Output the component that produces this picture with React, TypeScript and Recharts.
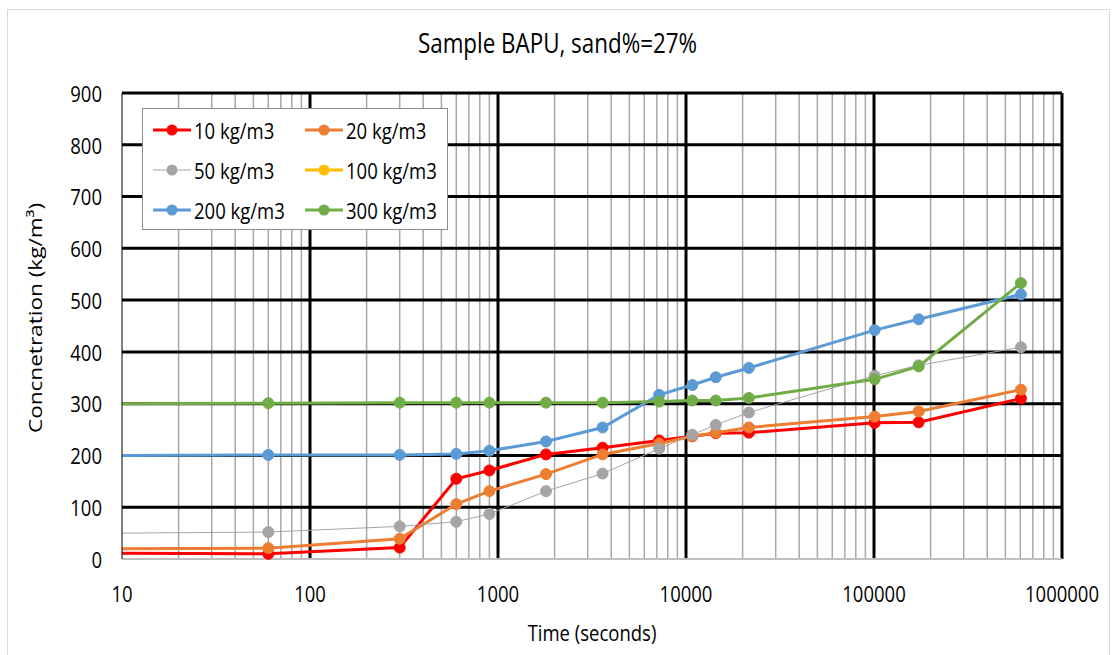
import React from "react";
import { LineChart, Line, XAxis, YAxis, ReferenceLine, Label } from "recharts";

const times = [10, 60, 300, 600, 900, 1800, 3600, 7200, 10800, 14400, 21600, 100800, 172800, 604800];
const c10 = [11, 10, 22, 155, 171, 202, 215, 229, 237, 243, 244, 263, 264, 310];
const c20 = [20, 21, 39, 106, 131, 164, 202, 223, 237, 244, 254, 275, 285, 327];
const c50 = [50, 52, 63, 72, 87, 131, 165, 213, 240, 259, 283, 354, 374, 409];
const c200 = [200, 201, 201, 203, 209, 227, 254, 317, 336, 351, 369, 442, 463, 511];
const c300 = [300, 301, 302, 302, 302, 302, 302, 304, 306, 306, 311, 347, 372, 533];

const xTicks = [10, 100, 1000, 10000, 100000, 1000000];
const yTicks = [0, 100, 200, 300, 400, 500, 600, 700, 800, 900];
const majorX = [100, 1000, 10000, 100000, 1000000];
const majorY = [100, 200, 300, 400, 500, 600, 700, 800, 900];
const minorX = [20, 30, 40, 50, 60, 70, 80, 90, 200, 300, 400, 500, 600, 700, 800, 900, 2000, 3000, 4000, 5000, 6000, 7000, 8000, 9000, 20000, 30000, 40000, 50000, 60000, 70000, 80000, 90000, 200000, 300000, 400000, 500000, 600000, 700000, 800000, 900000];

const series = [
  { key: "c10", name: "10 kg/m3", color: "#FF0000", width: 3 },
  { key: "c20", name: "20 kg/m3", color: "#ED7D31", width: 3 },
  { key: "c50", name: "50 kg/m3", color: "#A5A5A5", width: 1 },
  { key: "c100", name: "100 kg/m3", color: "#FFC000", width: 3 },
  { key: "c200", name: "200 kg/m3", color: "#5B9BD5", width: 3 },
  { key: "c300", name: "300 kg/m3", color: "#70AD47", width: 3 },
];

const data = times.map((t, i) => ({ t, c10: c10[i], c20: c20[i], c50: c50[i], c200: c200[i], c300: c300[i] }));

const FONT = "'Open Sans', sans-serif";
const SY = 1.22;
const FS = 18.5;

const makeDot = (color: string) => (props: any) => {
  const { cx, cy, index } = props;
  if (index === 0 || cx == null || cy == null) return <g key={`d${index}`} />;
  return <circle key={`d${index}`} cx={cx} cy={cy} r={5.5} fill={color} stroke={color} strokeWidth={1} />;
};

const XTick = (props: any) => {
  const { x, y, payload } = props;
  return (
    <g transform={`translate(${x},${y}) scale(1,${SY})`}>
      <text x={0} y={0} textAnchor="middle" dominantBaseline="central" fill="#000" fontSize={FS} fontFamily={FONT}>
        {payload.value}
      </text>
    </g>
  );
};

const YTick = (props: any) => {
  const { x, y, payload } = props;
  return (
    <g transform={`translate(${x},${y}) scale(1,${SY})`}>
      <text x={0} y={0} textAnchor="end" dominantBaseline="central" fill="#000" fontSize={FS} fontFamily={FONT}>
        {payload.value}
      </text>
    </g>
  );
};

const LegendBox = () => (
  <div style={{ position: "absolute", left: 142, top: 108, width: 306, height: 122, background: "#fff", border: "1px solid #8c8c8c", boxSizing: "border-box", fontFamily: FONT }}>
    {series.map((s, i) => {
      const col = i % 2;
      const row = Math.floor(i / 2);
      const left = col === 0 ? 10 : 162;
      const top = 21 + row * 40;
      return (
        <div key={s.key} style={{ position: "absolute", left, top: top - 15, height: 30, display: "flex", alignItems: "center" }}>
          <svg width={38} height={30} style={{ display: "block" }}>
            <line x1={0} y1={15} x2={38} y2={15} stroke={s.color} strokeWidth={s.width} />
            <circle cx={19} cy={15} r={5.5} fill={s.color} />
          </svg>
          <span style={{ fontSize: FS, lineHeight: "30px", color: "#000", marginLeft: 3, whiteSpace: "nowrap", display: "inline-block", transform: `scaleY(${SY})` }}>{s.name}</span>
        </div>
      );
    })}
  </div>
);

export default function App() {
  return (
    <div style={{ position: "absolute", left: 0, top: 0, width: 1115, height: 655, background: "#fff", overflow: "hidden" }}>
      <div style={{ position: "absolute", left: 7, top: 9, width: 1103, height: 700, border: "1.5px solid #d9d9d9", boxSizing: "border-box" }} />
      <div style={{ position: "absolute", left: 0, width: 1115, top: 23, height: 40, lineHeight: "40px", textAlign: "center", fontFamily: FONT, fontSize: 22.4, color: "#000", transform: `scaleY(${SY})` }}>
        Sample BAPU, sand%=27%
      </div>
      <div style={{ position: "absolute", left: 0, top: 0 }}>
        <LineChart width={1115} height={655} data={data} margin={{ top: 93, right: 53, bottom: 0, left: 0 }}>
          <XAxis
            dataKey="t"
            type="number"
            scale="log"
            domain={[10, 1000000]}
            ticks={xTicks}
            allowDataOverflow
            height={96}
            tickLine={false}
            tickSize={0}
            tickMargin={34}
            axisLine={{ stroke: "#bfbfbf", strokeWidth: 2 }}
            tick={<XTick />}
          >
            <Label
              content={(p: any) => {
                const vb = p.viewBox || {};
                const cx = (vb.x ?? 122) + (vb.width ?? 940) / 2;
                const cy = 632;
                return (
                  <g transform={`translate(${cx},${cy}) scale(1,${SY})`}>
                    <text x={0} y={0} textAnchor="middle" dominantBaseline="central" fill="#000" fontSize={FS} fontFamily={FONT}>
                      Time (seconds)
                    </text>
                  </g>
                );
              }}
            />
          </XAxis>
          <YAxis
            type="number"
            domain={[0, 900]}
            ticks={yTicks}
            width={122}
            tickLine={false}
            tickSize={0}
            tickMargin={20}
            axisLine={{ stroke: "#000", strokeWidth: 1 }}
            tick={<YTick />}
          >
            <Label
              content={(p: any) => {
                const vb = p.viewBox || {};
                const cx = 35;
                const cy = (vb.y ?? 93) + (vb.height ?? 466) / 2 - 8;
                return (
                  <g transform={`translate(${cx},${cy}) scale(1,${SY}) rotate(-90)`}>
                    <text x={0} y={0} textAnchor="middle" dominantBaseline="central" fill="#000" fontSize={FS} fontFamily={FONT}>
                      Concnetration (kg/m³)
                    </text>
                  </g>
                );
              }}
            />
          </YAxis>
          {minorX.map((v) => (
            <ReferenceLine key={`mx${v}`} x={v} stroke="#a6a6a6" strokeWidth={1.5} zIndex={-20} />
          ))}
          {majorX.map((v) => (
            <ReferenceLine key={`Mx${v}`} x={v} stroke="#000" strokeWidth={3} zIndex={-10} />
          ))}
          {majorY.map((v) => (
            <ReferenceLine key={`My${v}`} y={v} stroke="#000" strokeWidth={3} zIndex={-10} />
          ))}
          {series.map((s) => (
            <Line
              key={s.key}
              dataKey={s.key}
              name={s.name}
              stroke={s.color}
              strokeWidth={s.width}
              dot={makeDot(s.color)}
              activeDot={false}
              isAnimationActive={false}
              connectNulls={false}
            />
          ))}
        </LineChart>
      </div>
      <LegendBox />
    </div>
  );
}
